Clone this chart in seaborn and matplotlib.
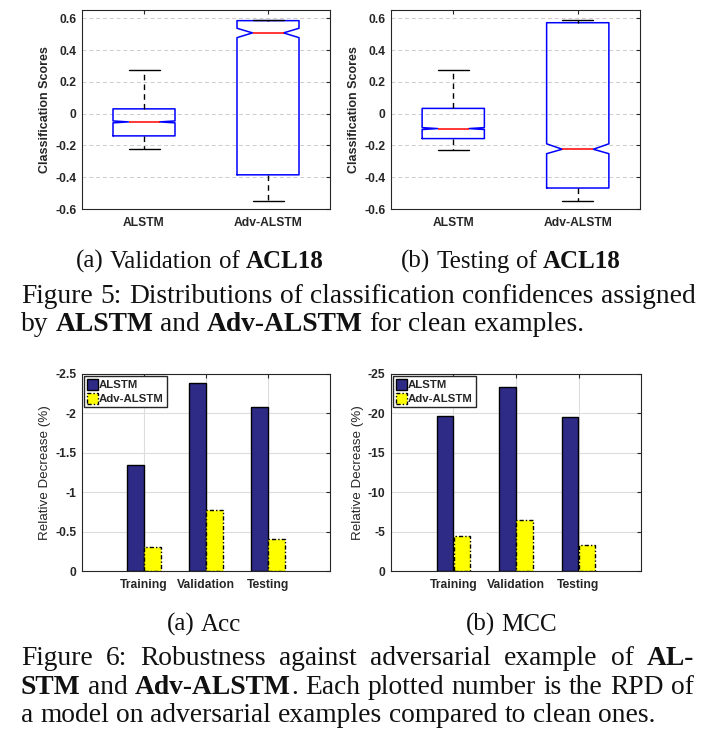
import matplotlib
matplotlib.use('Agg')
import matplotlib.pyplot as plt
import matplotlib.patches as mpatches
import matplotlib.ticker as mticker
import pandas as pd
import seaborn as sns

# Figure 5: box plot summaries
box_models = ['ALSTM', 'Adv-ALSTM']
val_whislo = [-0.225, -0.548]
val_q1 = [-0.14, -0.385]
val_med = [-0.052, 0.508]
val_q3 = [0.03, 0.585]
val_whishi = [0.273, 0.592]
val_cilo = [-0.058, 0.478]
val_cihi = [-0.046, 0.537]

test_whislo = [-0.227, -0.552]
test_q1 = [-0.157, -0.468]
test_med = [-0.094, -0.224]
test_q3 = [0.033, 0.572]
test_whishi = [0.273, 0.592]
test_cilo = [-0.100, -0.252]
test_cihi = [-0.088, -0.19]

# Figure 6: relative decrease bars
splits = ['Training', 'Validation', 'Testing']
acc_alstm = [-1.35, -2.38, -2.08]
acc_adv = [-0.30, -0.77, -0.41]
mcc_alstm = [-19.7, -23.4, -19.6]
mcc_adv = [-4.5, -6.5, -3.3]

NAVY = '#2E2B87'
YELLOW = '#FFFF00'
AXC = '#262626'
W, H = 713, 739

sns.set_theme(style='white')
plt.rcParams['font.family'] = ['Liberation Sans', 'DejaVu Sans']
plt.rcParams['font.weight'] = 'bold'
plt.rcParams['axes.unicode_minus'] = False

fig = plt.figure(figsize=(W / 100, H / 100), dpi=100)


def px_axes(x0, y0, x1, y1):
    # axes from pixel box (top-left origin)
    return fig.add_axes([x0 / W, 1 - y1 / H, (x1 - x0) / W, (y1 - y0) / H])


def style_axes(ax):
    for s in ax.spines.values():
        s.set_color(AXC)
        s.set_linewidth(0.8)
    ax.tick_params(direction='in', length=3, top=True, right=True,
                   labelsize=8.7, pad=4, colors=AXC, width=0.8)
    ax.tick_params(axis='x', pad=6)
    ax.yaxis.set_major_formatter(mticker.FuncFormatter(lambda v, p: '%g' % v))


def draw_box(ax, whislo, q1, med, q3, whishi, cilo, cihi):
    stats = []
    for i, m in enumerate(box_models):
        stats.append(dict(label=m, whislo=whislo[i], q1=q1[i], med=med[i], q3=q3[i],
                          whishi=whishi[i], cilo=cilo[i], cihi=cihi[i], fliers=[]))
    ax.bxp(stats, positions=[1, 2], widths=0.5, shownotches=True, showfliers=False,
           boxprops=dict(color='blue', linewidth=1.1),
           whiskerprops=dict(color='black', linestyle=(0, (4, 3)), linewidth=1.0),
           capprops=dict(color='black', linewidth=1.0),
           medianprops=dict(color='red', linewidth=1.1), manage_ticks=False)
    ax.set_xlim(0.5, 2.5)
    ax.set_ylim(-0.6, 0.652)
    ax.set_xticks([1, 2])
    ax.set_xticklabels(box_models)
    ax.set_yticks([-0.6, -0.4, -0.2, 0, 0.2, 0.4, 0.6])
    ax.yaxis.grid(True, color='#cccccc', linestyle=(0, (4, 3)), linewidth=0.7)
    ax.set_axisbelow(True)
    style_axes(ax)
    ax.set_ylabel('Classification Scores', fontsize=9, fontweight='bold',
                  labelpad=3, color=AXC)


def draw_bars(ax, alstm, adv, top, ticks):
    df = pd.DataFrame({'split': splits * 2,
                       'model': ['ALSTM'] * 3 + ['Adv-ALSTM'] * 3,
                       'value': alstm + adv})
    sns.barplot(data=df, x='split', y='value', hue='model', order=splits,
                hue_order=box_models, palette=[NAVY, YELLOW], saturation=1,
                width=0.55, gap=0.04, edgecolor='black', linewidth=1.0,
                errorbar=None, legend=False, ax=ax)
    dash = (0, (3, 1.5, 1, 1.5))
    for p in ax.containers[1]:
        p.set_linestyle(dash)
    ax.set_xlim(-1, 3)
    ax.set_ylim(0, top)
    ax.set_yticks(ticks)
    ax.set_xlabel('')
    ax.grid(True, color='#dddddd', linewidth=0.8)
    ax.set_axisbelow(True)
    style_axes(ax)
    ax.set_ylabel('Relative Decrease (%)', fontsize=9.6, fontweight='normal',
                  labelpad=3, color=AXC)
    handles = [mpatches.Patch(facecolor=NAVY, edgecolor='black', linewidth=1.0),
               mpatches.Patch(facecolor=YELLOW, edgecolor='black', linewidth=1.0,
                              linestyle=dash)]
    ax.legend(handles, box_models, loc='upper left', fontsize=8.2, frameon=True,
              fancybox=False, edgecolor=AXC, framealpha=1, borderpad=0.25,
              handlelength=1.0, handleheight=1.2, handletextpad=0.1,
              labelspacing=0.2, borderaxespad=0.15)


ax1 = px_axes(82, 10, 330, 209)
draw_box(ax1, val_whislo, val_q1, val_med, val_q3, val_whishi, val_cilo, val_cihi)
ax2 = px_axes(391, 10, 640, 209)
draw_box(ax2, test_whislo, test_q1, test_med, test_q3, test_whishi, test_cilo, test_cihi)

ax3 = px_axes(82, 374, 330, 571)
draw_bars(ax3, acc_alstm, acc_adv, -2.5, [0, -0.5, -1, -1.5, -2, -2.5])
ax4 = px_axes(391, 374, 641, 571)
draw_bars(ax4, mcc_alstm, mcc_adv, -25, [0, -5, -10, -15, -20, -25])


# captions: '**' toggles bold
def parse(s):
    words = []
    glue = False
    for i, seg in enumerate(s.split('**')):
        bold = i % 2 == 1
        for j, part in enumerate(seg.split(' ')):
            if part == '':
                glue = False
                continue
            if j == 0 and glue and words:
                words[-1].append((part, bold))
            else:
                words.append([(part, bold)])
            glue = True
    return words


def caption(y_px, text, size, left=None, right=None, center=None):
    renderer = fig.canvas.get_renderer()
    items, widths = [], []
    for word in parse(text):
        pieces, w = [], 0
        for piece, bold in word:
            t = fig.text(0, 0, piece, fontsize=size, family='Liberation Serif',
                         fontweight='bold' if bold else 'normal',
                         va='baseline', ha='left', color='#111111')
            pw = t.get_window_extent(renderer).width
            pieces.append((t, pw))
            w += pw
        items.append(pieces)
        widths.append(w)
    gap = 0.25 * size * fig.dpi / 72
    if right is not None:
        gap = max((right - left - sum(widths)) / (len(items) - 1), 0.15 * size * fig.dpi / 72)
    total = sum(widths) + gap * (len(items) - 1)
    x = center - total / 2 if center is not None else left
    for pieces in items:
        for t, pw in pieces:
            t.set_position((x / W, 1 - y_px / H))
            x += pw
        x += gap


SUB = 18
CAP = 19.8
caption(268, '(a) Validation of **ACL18**', SUB, center=200)
caption(268, '(b) Testing of **ACL18**', SUB, center=511)
caption(303, 'Figure 5: Distributions of classification confidences assigned', CAP, left=21, right=696)
caption(331, 'by **ALSTM** and **Adv-ALSTM** for clean examples.', CAP, left=21)

caption(631, '(a) Acc', SUB, center=204)
caption(631, '(b) MCC', SUB, center=511)
caption(665, 'Figure 6: Robustness against adversarial example of **AL-**', CAP, left=21, right=694)
caption(694, '**STM** and **Adv-ALSTM**. Each plotted number is the RPD of', CAP, left=21, right=694)
caption(722, 'a model on adversarial examples compared to clean ones.', CAP, left=21)

fig.savefig('out.png', dpi=100)
